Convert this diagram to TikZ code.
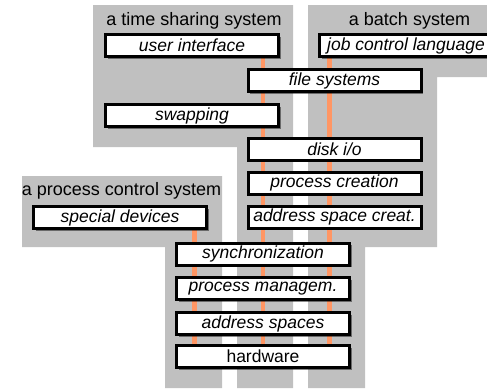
\documentclass[tikz,border=0pt]{standalone}
\usepackage{fontspec}
\setmainfont{Liberation Sans}
\usetikzlibrary{shadows}
\pgfdeclarelayer{regions}
\pgfdeclarelayer{links}
\pgfsetlayers{regions,links,main}
\definecolor{regiongray}{RGB}{192,192,192}
\definecolor{linkorange}{RGB}{255,150,100}
\tikzset{
	layerbox/.style={draw=black, line width=3pt, fill=white, minimum width=173pt, minimum height=22pt, inner sep=0pt,
		font=\fontsize{17.5}{20}\selectfont\itshape,
		drop shadow={shadow xshift=2pt, shadow yshift=-2pt, opacity=.45, fill=black}},
	sysname/.style={anchor=base, inner sep=0pt, font=\fontsize{18}{21}\selectfont},
	link/.style={draw=linkorange, line width=4.5pt},
}

\begin{document}
\begin{tikzpicture}[x=1pt, y=-1pt]
			%%%%% START %%%%%
			\useasboundingbox (0,0) rectangle (487,388);
			
			% the three systems
			\begin{pgfonlayer}{regions}
				\fill[regiongray] (93,5) -- (293,5) -- (293,388) -- (237,388) -- (237,147) -- (93,147) -- cycle;
				\fill[regiongray] (308,5) -- (487,5) -- (487,77) -- (437,77) -- (437,247) -- (365,247) -- (365,388) -- (308,388) -- cycle;
				\fill[regiongray] (22,176) -- (222,176) -- (222,388) -- (165,388) -- (165,247) -- (22,247) -- cycle;
			\end{pgfonlayer}
			
			\node[sysname] at (194,25.7) {a time sharing system};
			\node[sysname] at (409.5,25.7) {a batch system};
			\node[sysname] at (121.5,195.7) {a process control system};
			
			% layers
			\node[layerbox] (ui) at (192,45.5) {user interface};
			\node[layerbox] (jcl) at (406,45.5) {job control language};
			\node[layerbox] (fs) at (334.5,80.5) {file systems};
			\node[layerbox] (swap) at (192,115.5) {swapping};
			\node[layerbox] (dio) at (334.5,149) {disk i/o};
			\node[layerbox] (pcr) at (334.5,183) {process creation};
			\node[layerbox] (asc) at (334.5,217) {address space creat.};
			\node[layerbox] (dev) at (120,217.5) {special devices};
			\node[layerbox] (sync) at (263,254) {synchronization};
			\node[layerbox] (pm) at (263,288.5) {process managem.};
			\node[layerbox] (as) at (263,323.5) {address spaces};
			\node[layerbox, font=\fontsize{17.5}{20}\selectfont] (hw) at (263,356.5) {hardware};
			
			% uses-relations
			\begin{pgfonlayer}{links}
				\draw[link] (ui.south -| hw.north) -- (hw.north);
				\draw[link] ([xshift=11.5pt]jcl.south west) -- ([xshift=11.5pt]jcl.south west |- hw.north);
				\draw[link] ([xshift=-13.5pt]dev.south east) -- ([xshift=-13.5pt]dev.south east |- hw.north);
			\end{pgfonlayer}
			
			%%%%% END %%%%%
\end{tikzpicture}
\end{document}
